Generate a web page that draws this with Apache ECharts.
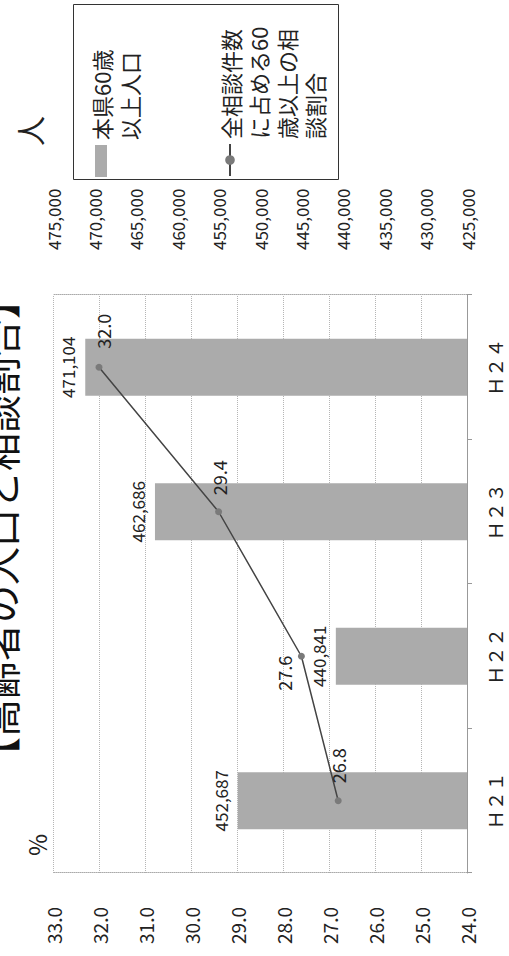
<!DOCTYPE html>
<html>
<head>
<meta charset="utf-8">
<script src="https://cdn.jsdelivr.net/npm/echarts@6/dist/echarts.min.js"></script>
<style>
  html, body { margin: 0; padding: 0; background: #fff; overflow: hidden; }
  #wrap { width: 509px; height: 956px; position: relative; overflow: hidden; }
  /* chart is drawn landscape and turned a quarter to the left, like the scan */
  #chart {
    position: absolute; left: 0; top: 0;
    width: 956px; height: 509px;
    transform-origin: 0 0;
    transform: translate(0, 956px) rotate(-90deg);
  }
</style>
</head>
<body>
<div id="wrap"><div id="chart"></div></div>
<script>
// データ
const years = ['Ｈ２１', 'Ｈ２２', 'Ｈ２３', 'Ｈ２４'];
const population = [452687, 440841, 462686, 471104];   // 本県60歳以上人口
const ratio = [26.8, 27.6, 29.4, 32.0];                // 相談割合 (%)
const popName = '本県60歳以上人口';
const ratioName = '全相談件数に占める60歳以上の相談割合';
// 凡例の折り返し（先頭の空行でアイコンを1行目にそろえる）
const legendText = {};
legendText[popName] = '\n本県60歳\n以上人口';
legendText[ratioName] = '\n\n\n全相談件数\nに占める60\n歳以上の相\n談割合';

const FONT = '"Noto Sans CJK JP", "Noto Sans", sans-serif';
const withComma = v => String(v).replace(/\B(?=(\d{3})+(?!\d))/g, ',');

const myChart = echarts.init(document.getElementById('chart'), null, { renderer: 'svg' });

// 線グラフのラベル位置（点ごと）
const ratioLabels = [
  { position: 'right', distance: 14 },
  { position: 'top', distance: 5, offset: [-17, 0] },
  { position: 'right', distance: 13 },
  { position: 'right', distance: 15, offset: [0, 4] }
];

const legendBase = {
  orient: 'vertical',
  left: 779,
  padding: 0,
  itemWidth: 32, itemHeight: 12,
  formatter: name => legendText[name],
  textStyle: { fontSize: 22, lineHeight: 28, color: '#222', fontFamily: FONT }
};

const option = {
  textStyle: { fontFamily: FONT },
  animation: false,
  title: {
    text: '【高齢者の人口と相談割合】',
    left: 181, top: -20, padding: 0,
    textStyle: { fontSize: 38, fontWeight: 'normal', color: '#111', fontFamily: FONT }
  },
  legend: [
    Object.assign({}, legendBase, { top: 59, data: [{ name: popName, icon: 'rect' }] }),
    Object.assign({}, legendBase, { top: 132, data: [ratioName] })
  ],
  graphic: [{
    type: 'rect',
    shape: { x: 776.5, y: 73.5, width: 175, height: 265 },
    style: { fill: 'none', stroke: '#333', lineWidth: 1 }
  }],
  grid: { left: 83, right: 295, top: 53, bottom: 42 },
  xAxis: {
    type: 'category',
    data: years,
    axisLine: { lineStyle: { color: '#999', width: 1 } },
    axisTick: { show: true, length: 5, lineStyle: { color: '#999' } },
    axisLabel: { margin: 18, fontSize: 19, color: '#222', fontFamily: FONT }
  },
  yAxis: [
    {
      type: 'value',
      min: 24, max: 33, interval: 1,
      name: '%',
      nameLocation: 'end',
      nameGap: 5,
      nameTextStyle: { fontSize: 24, color: '#222', align: 'left', verticalAlign: 'bottom', padding: [0, 0, 0, 17] },
      axisLine: { show: true, lineStyle: { color: '#aaa', type: 'dotted' } },
      axisTick: { show: false },
      splitLine: { lineStyle: { color: '#b5b5b5', type: 'dotted' } },
      axisLabel: { margin: 34, fontSize: 19, color: '#222', formatter: v => v.toFixed(1) }
    },
    {
      type: 'value',
      min: 425000, max: 475000, interval: 5000,
      position: 'right',
      name: '人',
      nameLocation: 'end',
      nameGap: 9,
      nameTextStyle: { fontSize: 30, color: '#222', align: 'left', verticalAlign: 'bottom', padding: [0, 0, 0, 149] },
      axisLine: { show: true, lineStyle: { color: '#aaa', type: 'dotted' } },
      axisTick: { show: false },
      splitLine: { show: false },
      axisLabel: { margin: 45, fontSize: 17, color: '#222', formatter: v => withComma(v) }
    }
  ],
  series: [
    {
      name: popName,
      type: 'bar',
      yAxisIndex: 1,
      barWidth: 57,
      data: population,
      itemStyle: { color: '#ababab' },
      label: { show: true, position: 'top', distance: 9, fontSize: 17, color: '#222', formatter: p => withComma(p.value) }
    },
    {
      name: ratioName,
      type: 'line',
      yAxisIndex: 0,
      data: ratio.map((v, i) => ({ value: v, label: ratioLabels[i] })),
      symbol: 'circle',
      symbolSize: 7,
      lineStyle: { color: '#444', width: 1.5 },
      itemStyle: { color: '#7a7a7a' },
      label: { show: true, fontSize: 18, color: '#222', formatter: p => p.value.toFixed(1) },
      z: 3
    }
  ]
};

myChart.setOption(option);
</script>
</body>
</html>
